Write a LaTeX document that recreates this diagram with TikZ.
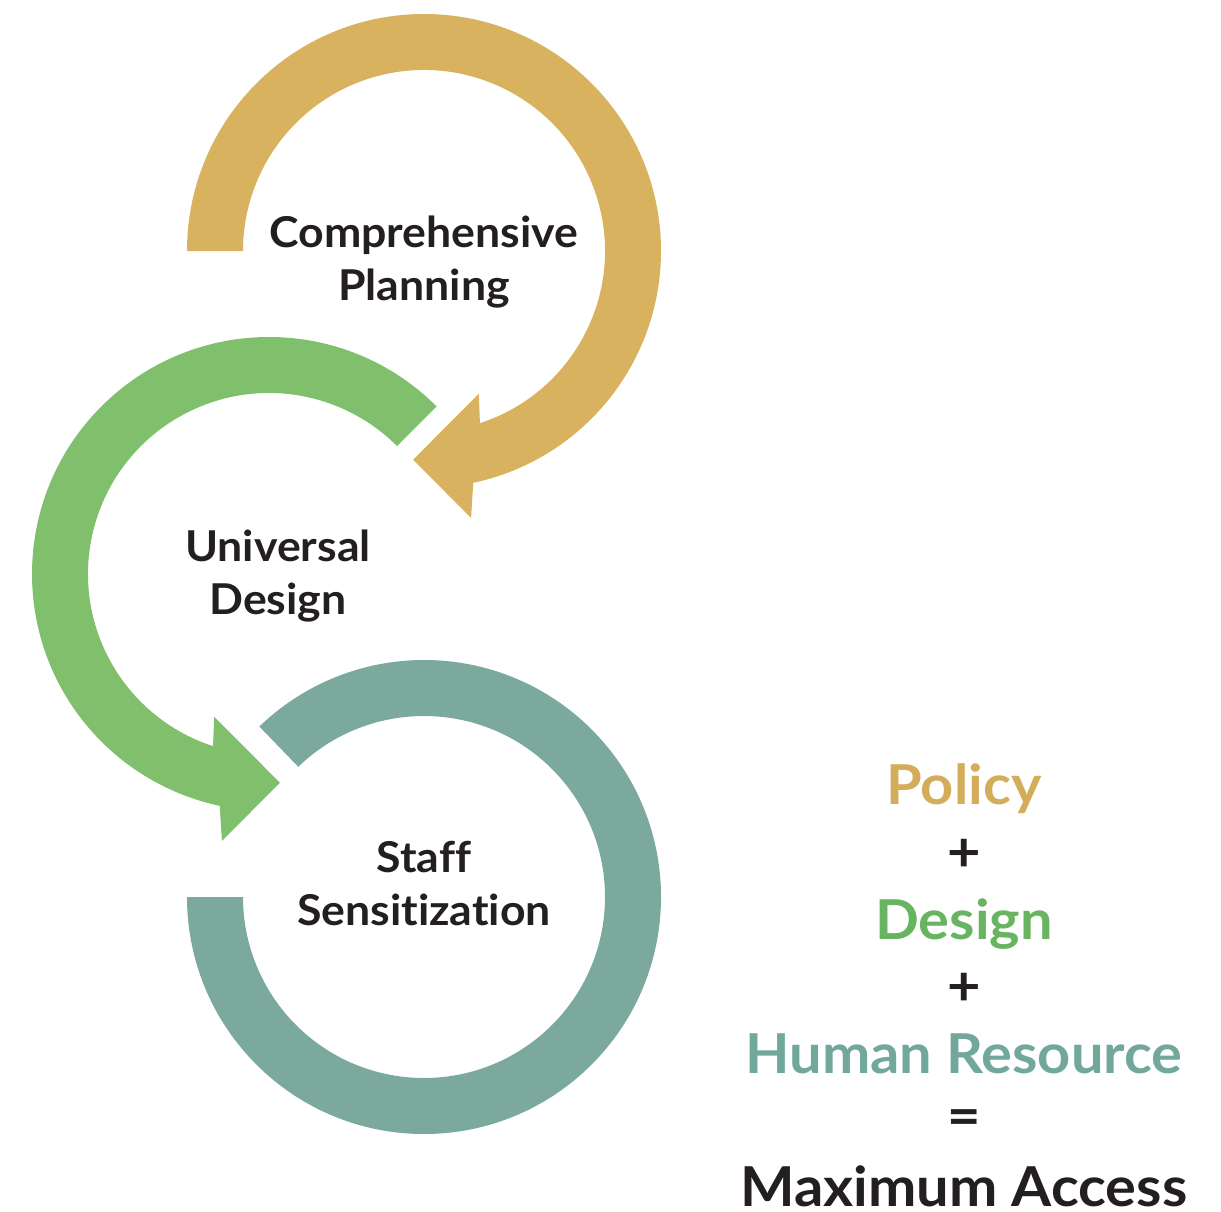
\documentclass[tikz,border=0pt]{standalone}
\usepackage{fontspec}
\setmainfont{Lato}[Ligatures=NoCommon,FakeStretch=1.05]
\definecolor{ringgold}{HTML}{D8B25E}
\definecolor{ringgreen}{HTML}{80C06D}
\definecolor{ringteal}{HTML}{7BA99D}
\definecolor{txtgold}{HTML}{D4AD5B}
\definecolor{txtgreen}{HTML}{69B460}
\definecolor{txtteal}{HTML}{72A89B}
\definecolor{txtdark}{HTML}{231F20}
\begin{document}
\begin{tikzpicture}[x=1pt,y=1pt,
  ringlabel/.style={anchor=base,inner sep=0pt,text=txtdark,
    font=\fontsize{42.5}{53}\selectfont\bfseries},
  sumword/.style={anchor=base,inner sep=0pt,
    font=\fontsize{55}{60}\selectfont\bfseries},
  sumsign/.style={anchor=center,inner sep=0pt,text=txtdark,
    font=\fontsize{55}{60}\selectfont\bfseries}]
\useasboundingbox (0,0) rectangle (1221,-1212);

% outer radius 237, inner radius 181 for all three rings
% planning ring: clockwise from the left, arrowhead at the bottom
\begin{scope}[shift={(424,-251)}]
  \fill[ringgold] (180:237) arc[start angle=180,end angle=-78,radius=237]
    -- (-80:271) -- (-93:209) -- (-69:153) -- (-72:181)
    arc[start angle=-72,end angle=180,radius=181] -- cycle;
\end{scope}

% design ring: counter-clockwise from the upper right
\begin{scope}[shift={(269,-574)}]
  \fill[ringgreen] (45:237) arc[start angle=45,end angle=258,radius=237]
    -- (260:271) -- (273:209) -- (249:153) -- (252:181)
    arc[start angle=252,end angle=45,radius=181] -- cycle;
\end{scope}

% sensitization ring: open band without arrowhead
\begin{scope}[shift={(424,-897)}]
  \fill[ringteal] (180:237) arc[start angle=180,end angle=494,radius=237]
    -- (494:181) arc[start angle=494,end angle=180,radius=181] -- cycle;
\end{scope}

% ring labels
\node[ringlabel] (cp1) at (424,-247) {Comprehensive};
\node[ringlabel] (cp2) at (424,-300) {Planning};
\node[ringlabel] (ud1) at (278,-561) {Universal};
\node[ringlabel] (ud2) at (278,-614) {Design};
\node[ringlabel] (ss1) at (424,-872) {Staff};
\node[ringlabel] (ss2) at (424,-925) {Sensitization};

% the sum on the right
\node[sumword,text=txtgold]  (pol) at (964,-804)  {Policy};
\node[sumsign]               (pl1) at (964,-855)  {+};
\node[sumword,text=txtgreen] (des) at (964,-939)  {Design};
\node[sumsign]               (pl2) at (964,-989)  {+};
\node[sumword,text=txtteal]  (hum) at (964,-1073) {Human Resource};
\node[sumsign]               (eq)  at (964,-1123) {=};
\node[sumword,text=txtdark]  (max) at (964,-1206) {Maximum Access};
\end{tikzpicture}
\end{document}
